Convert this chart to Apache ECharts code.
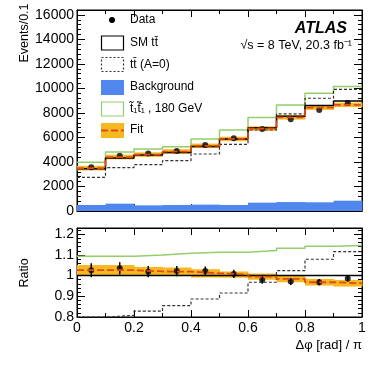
<!DOCTYPE html>
<html>
<head>
<meta charset="utf-8">
<script src="https://cdn.jsdelivr.net/npm/echarts@6/dist/echarts.min.js"></script>
<style>
  html, body { margin: 0; padding: 0; background: #fff; }
  #chart { width: 374px; height: 366px; }
</style>
</head>
<body>
<div id="chart"></div>
<script>
// bin edges in dphi/pi
const edges = [0, 0.1, 0.2, 0.3, 0.4, 0.5, 0.6, 0.7, 0.8, 0.9, 1.0];
const centers = [0.05, 0.15, 0.25, 0.35, 0.45, 0.55, 0.65, 0.75, 0.85, 0.95];

// top panel, events / 0.1
const dataEvents = [3560, 4500, 4700, 4900, 5390, 5930, 6690, 7480, 8240, 8820];
const smEvents = [3440, 4330, 4560, 4780, 5270, 5870, 6800, 7730, 8600, 8970];
const noSpinEvents = [2750, 3540, 3780, 4110, 4650, 5440, 6610, 7920, 9200, 9930];
const bkgEvents = [490, 600, 460, 490, 520, 490, 680, 730, 710, 840];
const stopEvents = [3980, 4820, 5060, 5250, 5880, 6610, 7620, 8650, 9610, 10150];
const fitEvents = [3500, 4400, 4600, 4850, 5320, 5880, 6730, 7640, 8430, 8660];
const fitBandEvents = [190, 190, 185, 185, 180, 180, 180, 180, 180, 180];

// bottom panel, ratio to SM
const dataRatio = [1.026, 1.035, 1.019, 1.022, 1.022, 1.008, 0.979, 0.971, 0.968, 0.986];
const dataRatioErr = [0.034, 0.030, 0.027, 0.025, 0.022, 0.020, 0.018, 0.016, 0.015, 0.014];
const smRatio = [1, 1, 1, 1, 1, 1, 1, 1, 1, 1];
const noSpinRatio = [0.799, 0.808, 0.828, 0.855, 0.887, 0.916, 0.968, 1.024, 1.079, 1.116];
const stopRatio = [1.093, 1.093, 1.100, 1.108, 1.113, 1.113, 1.121, 1.132, 1.142, 1.145];
const fitRatio = [1.026, 1.026, 1.020, 1.019, 1.011, 1.005, 0.995, 0.984, 0.968, 0.963];
const fitRatioErr = [0.025, 0.025, 0.022, 0.020, 0.020, 0.015, 0.015, 0.016, 0.016, 0.016];

const FONT = '"Liberation Sans", Arial, Helvetica, sans-serif';
const GREEN = '#92cf6a';
const BLUE = '#4f87ee';
const ORANGE = '#f6b81f';
const RED = '#e2481b';

function steps(vals) {
  return vals.map((v, i) => [edges[i], v]).concat([[edges[edges.length - 1], vals[vals.length - 1]]]);
}

function stepLine(name, vals, xi, yi, style) {
  return {
    name: name, type: 'line', step: 'end', xAxisIndex: xi, yAxisIndex: yi,
    data: steps(vals), symbol: 'none', lineStyle: style, animation: false, silent: true
  };
}

// filled boxes per bin, between lo and hi
function boxes(name, lo, hi, xi, yi, color) {
  return {
    name: name, type: 'custom', xAxisIndex: xi, yAxisIndex: yi, animation: false, silent: true,
    data: lo.map((l, i) => [edges[i], edges[i + 1], l, hi[i]]),
    renderItem: function (params, api) {
      const p0 = api.coord([api.value(0), api.value(3)]);
      const p1 = api.coord([api.value(1), api.value(2)]);
      return { type: 'rect', shape: { x: p0[0], y: p0[1], width: p1[0] - p0[0] + 0.5, height: p1[1] - p0[1] },
               style: { fill: color } };
    }
  };
}

function errorBars(name, vals, errs, xi, yi) {
  return {
    name: name, type: 'custom', xAxisIndex: xi, yAxisIndex: yi, animation: false, silent: true,
    data: vals.map((v, i) => [centers[i], v - errs[i], v + errs[i]]),
    renderItem: function (params, api) {
      const a = api.coord([api.value(0), api.value(1)]);
      const b = api.coord([api.value(0), api.value(2)]);
      return { type: 'line', shape: { x1: a[0], y1: a[1], x2: b[0], y2: b[1] },
               style: { stroke: '#000', lineWidth: 1.5 } };
    }
  };
}

function xAxis(gi, pos, labels) {
  return {
    type: 'value', gridIndex: gi, position: pos, min: 0, max: 1, interval: 0.2,
    axisLine: { show: true, onZero: false, lineStyle: { color: '#000', width: 1 } },
    axisTick: { show: true, inside: true, length: 7, lineStyle: { color: '#000' } },
    minorTick: { show: true, splitNumber: 2, length: 4, lineStyle: { color: '#000' } },
    axisLabel: { show: labels, color: '#000', fontFamily: FONT, fontSize: 14, margin: 4 },
    splitLine: { show: false }
  };
}

function yAxis(gi, pos, min, max, interval, minor, labels, fmt) {
  return {
    type: 'value', gridIndex: gi, position: pos, min: min, max: max, interval: interval,
    axisLine: { show: true, onZero: false, lineStyle: { color: '#000', width: 1 } },
    axisTick: { show: true, inside: true, length: 8, lineStyle: { color: '#000' } },
    minorTick: { show: true, splitNumber: minor, length: 4, lineStyle: { color: '#000' } },
    axisLabel: { show: labels, color: '#000', fontFamily: FONT, fontSize: 14, margin: 3,
                 showMaxLabel: false, formatter: fmt },
    splitLine: { show: false }
  };
}

const dashed = { color: '#333', width: 1.2, type: [3, 2] };
const zeros = bkgEvents.map(() => 0);

const option = {
  backgroundColor: '#fff',
  animation: false,
  grid: [
    { left: 77, right: 12, top: 10, height: 201, show: true, borderColor: '#000', borderWidth: 1 },
    { left: 77, right: 12, top: 228, height: 89, show: true, borderColor: '#000', borderWidth: 1 }
  ],
  xAxis: [
    xAxis(0, 'bottom', false),
    xAxis(0, 'top', false),
    xAxis(1, 'bottom', true),
    xAxis(1, 'top', false)
  ],
  yAxis: [
    yAxis(0, 'left', 0, 16400, 2000, 5, true, v => String(v)),
    yAxis(0, 'right', 0, 16400, 2000, 5, false),
    yAxis(1, 'left', 0.8, 1.23, 0.1, 5, true, v => String(parseFloat(v.toFixed(2)))),
    yAxis(1, 'right', 0.8, 1.23, 0.1, 5, false)
  ],
  series: [
    // top panel
    boxes('Background', zeros, bkgEvents, 0, 0, BLUE),
    stepLine('stop 180 GeV', stopEvents, 0, 0, { color: GREEN, width: 1.5 }),
    stepLine('tt A=0', noSpinEvents, 0, 0, dashed),
    stepLine('SM tt', smEvents, 0, 0, { color: '#000', width: 1.5 }),
    boxes('Fit band', fitEvents.map((v, i) => v - fitBandEvents[i]), fitEvents.map((v, i) => v + fitBandEvents[i]), 0, 0, ORANGE),
    stepLine('Fit', fitEvents, 0, 0, { color: RED, width: 1.8, type: [7, 3] }),
    {
      name: 'Data', type: 'scatter', xAxisIndex: 0, yAxisIndex: 0, symbol: 'circle', symbolSize: 6,
      itemStyle: { color: '#000' }, data: dataEvents.map((v, i) => [centers[i], v]), silent: true
    },
    // ratio panel
    boxes('Fit band ratio', fitRatio.map((v, i) => v - fitRatioErr[i]), fitRatio.map((v, i) => v + fitRatioErr[i]), 2, 2, ORANGE),
    stepLine('SM ratio', smRatio, 2, 2, { color: '#000', width: 1.5 }),
    stepLine('stop ratio', stopRatio, 2, 2, { color: GREEN, width: 1.5 }),
    stepLine('A=0 ratio', noSpinRatio, 2, 2, dashed),
    stepLine('Fit ratio', fitRatio, 2, 2, { color: RED, width: 1.8, type: [7, 3] }),
    errorBars('Data ratio err', dataRatio, dataRatioErr, 2, 2),
    {
      name: 'Data ratio', type: 'scatter', xAxisIndex: 2, yAxisIndex: 2, symbol: 'circle', symbolSize: 6,
      itemStyle: { color: '#000' }, data: dataRatio.map((v, i) => [centers[i], v]), silent: true
    }
  ],
  graphic: [
    // axis titles
    { type: 'text', x: 25, y: 33, rotation: Math.PI / 2,
      style: { text: 'Events/0.1', font: '12.5px ' + FONT, fill: '#000', align: 'center', verticalAlign: 'middle' } },
    { type: 'text', x: 25, y: 273, rotation: Math.PI / 2,
      style: { text: 'Ratio', font: '12.5px ' + FONT, fill: '#000', align: 'center', verticalAlign: 'middle' } },
    { type: 'text', x: 362, y: 345,
      style: { text: 'Δφ [rad] / π', font: '13px ' + FONT, fill: '#000', align: 'right', verticalAlign: 'middle' } },
    // labels
    { type: 'text', x: 347, y: 29,
      style: { text: 'ATLAS', font: 'italic bold 16px ' + FONT, fill: '#000', align: 'right', verticalAlign: 'middle' } },
    { type: 'text', x: 352, y: 46,
      style: { text: '√s = 8 TeV, 20.3 fb⁻¹', font: '12.5px ' + FONT, fill: '#000', align: 'right', verticalAlign: 'middle' } },
    // legend
    { type: 'circle', shape: { cx: 112, cy: 20, r: 3 }, style: { fill: '#000' } },
    { type: 'text', x: 130, y: 20, style: { text: 'Data', font: '12px ' + FONT, fill: '#000', verticalAlign: 'middle' } },
    { type: 'rect', shape: { x: 101.5, y: 36, width: 22, height: 14 }, style: { fill: '#fff', stroke: '#000', lineWidth: 1.2 } },
    { type: 'text', x: 130, y: 43, style: { text: 'SM tt̄', font: '12px ' + FONT, fill: '#000', verticalAlign: 'middle' } },
    { type: 'rect', shape: { x: 101.5, y: 57.5, width: 22, height: 14 }, style: { fill: '#fff', stroke: '#333', lineWidth: 1.2, lineDash: [2, 2] } },
    { type: 'text', x: 130, y: 64.5, style: { text: 'tt̄ (A=0)', font: '12px ' + FONT, fill: '#000', verticalAlign: 'middle' } },
    { type: 'rect', shape: { x: 101, y: 80, width: 23, height: 15 }, style: { fill: BLUE } },
    { type: 'text', x: 130, y: 87, style: { text: 'Background', font: '12px ' + FONT, fill: '#000', verticalAlign: 'middle' } },
    { type: 'rect', shape: { x: 101.5, y: 102, width: 22, height: 14 }, style: { fill: '#fff', stroke: GREEN, lineWidth: 1.2 } },
    { type: 'text', x: 130, y: 109, style: { text: 't̃₁t̃̄₁ , 180 GeV', font: '12px ' + FONT, fill: '#000', verticalAlign: 'middle' } },
    { type: 'rect', shape: { x: 101, y: 123, width: 23, height: 15 }, style: { fill: ORANGE } },
    { type: 'line', shape: { x1: 101, y1: 130.5, x2: 124, y2: 130.5 }, style: { stroke: RED, lineWidth: 2, lineDash: [7, 3] } },
    { type: 'text', x: 130, y: 130, style: { text: 'Fit', font: '12px ' + FONT, fill: '#000', verticalAlign: 'middle' } }
  ]
};

const chart = echarts.init(document.getElementById('chart'), null, { renderer: 'canvas' });
chart.setOption(option);
</script>
</body>
</html>
